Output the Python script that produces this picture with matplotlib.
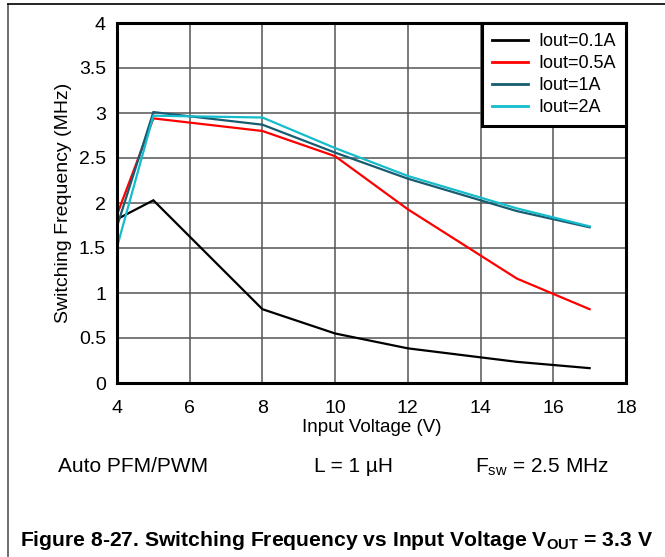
import matplotlib.pyplot as plt
from matplotlib.lines import Line2D

plt.rcParams['font.family'] = ['Liberation Sans', 'DejaVu Sans']

# Data
vin = [4, 5, 8, 10, 12, 15, 17]
f_01a = [1.82, 2.03, 0.82, 0.55, 0.385, 0.235, 0.165]
f_05a = [1.87, 2.94, 2.80, 2.52, 1.93, 1.16, 0.82]
f_1a = [1.74, 3.01, 2.87, 2.56, 2.27, 1.91, 1.73]
f_2a = [1.51, 2.97, 2.95, 2.61, 2.30, 1.94, 1.74]

labels = ["Iout=0.1A", "Iout=0.5A", "Iout=1A", "Iout=2A"]
colors = ["#000000", "#ff0000", "#175c70", "#14bccc"]
series = [f_01a, f_05a, f_1a, f_2a]

xticks = [4, 6, 8, 10, 12, 14, 16, 18]
yticks = [0, 0.5, 1, 1.5, 2, 2.5, 3, 3.5, 4]

fig = plt.figure(figsize=(6.65, 5.57), dpi=100)
ax = fig.add_axes([117 / 665, 1 - 383 / 557, (626 - 117) / 665, (383 - 23) / 557])

for y, lab, c in zip(series, labels, colors):
    ax.plot(vin, y, color=c, lw=1.6, label=lab, solid_joinstyle='miter')

ax.set_xlim(4, 18)
ax.set_ylim(0, 4)
ax.set_xticks(xticks)
ax.set_yticks(yticks)
ax.set_xticklabels([str(t) for t in xticks])
ax.set_yticklabels(['0', '0.5', '1', '1.5', '2', '2.5', '3', '3.5', '4'])
ax.tick_params(length=0, labelsize=14)
ax.tick_params(axis='x', pad=12)
ax.tick_params(axis='y', pad=8)
ax.grid(True, color='#555555', lw=1.1)
ax.set_axisbelow(True)
for s in ax.spines.values():
    s.set_linewidth(2.2)

ax.set_xlabel('Input Voltage (V)', fontsize=13.5, labelpad=2)
ax.set_ylabel('Switching Frequency (MHz)', fontsize=14, labelpad=5)

leg = ax.legend(loc='upper right', fontsize=13, frameon=True, fancybox=False,
                borderaxespad=0, handlelength=2.0, labelspacing=0.28,
                borderpad=0.55, handletextpad=0.6)
leg.get_frame().set_edgecolor('black')
leg.get_frame().set_linewidth(2.2)
leg.get_frame().set_alpha(1)
for h in leg.get_lines():
    h.set_linewidth(2)

# condition notes
fig.text(58 / 665, 1 - 467 / 557, 'Auto PFM/PWM', fontsize=15, va='center', ha='left')
fig.text(354 / 665, 1 - 467 / 557, 'L = 1 µH', fontsize=15, va='center', ha='center')
fig.text(475 / 665, 1 - 467 / 557, r'F$_{\mathregular{sw}}$ = 2.5 MHz', fontsize=15,
         va='center', ha='left')

fig.text(20 / 665, 1 - 541 / 557,
         r'Figure 8-27. Switching Frequency vs Input Voltage V$_{\mathregular{OUT}}$ = 3.3 V',
         fontsize=15.2, fontweight='bold', va='center', ha='left')

# outer frame (left and top edges only)
fig.add_artist(Line2D([8 / 665, 8 / 665], [0, 1 - 4 / 557], transform=fig.transFigure,
                      color='#555555', lw=1.2))
fig.add_artist(Line2D([8 / 665, 1], [1 - 4 / 557, 1 - 4 / 557], transform=fig.transFigure,
                      color='black', lw=1.2))

fig.savefig('out.png', dpi=100)
